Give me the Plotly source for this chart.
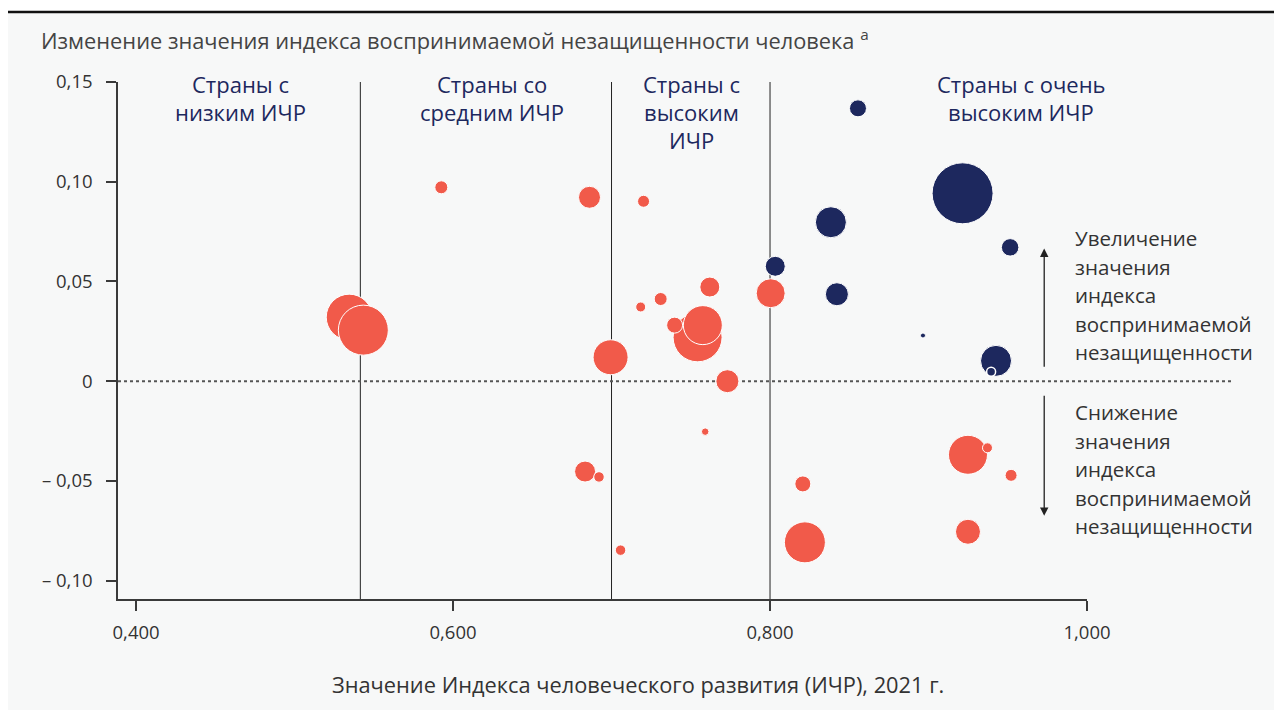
import plotly.graph_objects as go

# ---- data ----
red_hdi = [0.5345, 0.5434, 0.5926, 0.6861, 0.7202, 0.6994, 0.7184, 0.7310, 0.7620,
           0.7543, 0.7398, 0.7576, 0.7731, 0.8004, 0.6833, 0.6921, 0.7057, 0.7591,
           0.8207, 0.8220, 0.9249, 0.9372, 0.9521, 0.9249]
red_change = [0.0321, 0.0256, 0.0972, 0.0922, 0.0902, 0.0120, 0.0372, 0.0412, 0.0472,
              0.0220, 0.0281, 0.0281, 0.0000, 0.0441, -0.0453, -0.0480, -0.0847, -0.0253,
              -0.0515, -0.0808, -0.0369, -0.0334, -0.0472, -0.0755]
red_size = [46, 50, 13, 22, 12, 35, 10, 13, 20,
            49, 16, 39, 23, 29, 21, 10.5, 10.5, 7.5,
            16, 41, 39, 10, 12, 25]

navy_hdi = [0.8555, 0.9215, 0.8384, 0.9515, 0.8033, 0.8422, 0.8965, 0.9426, 0.9395]
navy_change = [0.1368, 0.0942, 0.0797, 0.0671, 0.0576, 0.0436, 0.0229, 0.0102, 0.0047]
navy_size = [17, 61, 31, 17.5, 20, 23, 5, 31, 9]

group_bounds = [0.5415, 0.700, 0.800]

x_tickvals = [0.4, 0.6, 0.8, 1.0]
x_ticktext = ["0,400", "0,600", "0,800", "1,000"]
y_tickvals = [0.15, 0.10, 0.05, 0.0, -0.05, -0.10]
y_ticktext = ["0,15", "0,10", "0,05", "0", "– 0,05", "– 0,10"]

RED = "#f15a4a"
NAVY = "#1d285e"
TXT = "#333333"
FONT = "Open Sans"

# the page body adds an 8px margin; work in screenshot pixels and offset
OFF = 8
W, H = 1282 - OFF, 710 - OFF
L, R, T, B = 118 - OFF, 1087 - OFF, 82 - OFF, 599 - OFF


def px(xp):
    return (xp - OFF - L) / (R - L)


def py(yp):
    return (B - (yp - OFF)) / (B - T)


fig = go.Figure()
fig.add_trace(go.Scatter(
    x=red_hdi, y=red_change, mode="markers",
    marker=dict(size=red_size, color=RED, opacity=1,
                line=dict(color="white", width=1)),
    hoverinfo="skip", showlegend=False))
fig.add_trace(go.Scatter(
    x=navy_hdi, y=navy_change, mode="markers",
    marker=dict(size=navy_size, color=NAVY, opacity=1,
                line=dict(color="white", width=[1, 1, 1, 1, 1, 1, 1, 1, 1.5])),
    hoverinfo="skip", showlegend=False))

shapes = []
# panel background and top rule
shapes.append(dict(type="rect", xref="paper", yref="paper",
                   x0=px(6), x1=px(1290), y0=py(720), y1=py(12),
                   fillcolor="#f7f8f8", line=dict(width=0), layer="below"))
shapes.append(dict(type="line", xref="paper", yref="paper",
                   x0=px(6), x1=px(1290), y0=py(12), y1=py(12),
                   line=dict(color="#111111", width=2.5)))
# group boundaries
for b in group_bounds:
    shapes.append(dict(type="line", xref="x", yref="paper", x0=b, x1=b, y0=0, y1=1,
                       line=dict(color="#222222", width=1), layer="below"))
# zero line
shapes.append(dict(type="line", xref="paper", yref="y", x0=0, x1=px(1233), y0=0, y1=0,
                   line=dict(color="#555555", width=2, dash="dot"), layer="below"))

annotations = []


def text_lines(lines, xp, y0p, step, color, size, anchor):
    for i, t in enumerate(lines):
        annotations.append(dict(text=t, xref="paper", yref="paper",
                                x=px(xp), y=py(y0p + i * step),
                                xanchor=anchor, yanchor="middle", showarrow=False,
                                font=dict(family=FONT, size=size, color=color)))


CAT = 22
text_lines(["Страны с", "низким ИЧР"], 240, 84, 28, NAVY, CAT, "center")
text_lines(["Страны со", "средним ИЧР"], 492, 84, 28, NAVY, CAT, "center")
text_lines(["Страны с", "высоким", "ИЧР"], 691, 84, 28, NAVY, CAT, "center")
text_lines(["Страны с очень", "высоким ИЧР"], 1021, 84, 28, NAVY, CAT, "center")

SIDE = 20.5
text_lines(["Увеличение", "значения", "индекса", "воспринимаемой", "незащищенности"],
           1073, 238, 28.6, TXT, SIDE, "left")
text_lines(["Снижение", "значения", "индекса", "воспринимаемой", "незащищенности"],
           1073, 412, 28.6, TXT, SIDE, "left")

# title
annotations.append(dict(text="Изменение значения индекса воспринимаемой незащищенности человека <sup>a</sup>",
                        xref="paper", yref="paper", x=px(39), y=py(40),
                        xanchor="left", yanchor="middle", showarrow=False,
                        font=dict(family=FONT, size=21.8, color="#444444")))
# x axis title
annotations.append(dict(text="Значение Индекса человеческого развития (ИЧР), 2021 г.",
                        xref="paper", yref="paper", x=px(638), y=py(684),
                        xanchor="center", yanchor="middle", showarrow=False,
                        font=dict(family=FONT, size=21.8, color=TXT)))

# arrows
annotations.append(dict(x=0.973, y=0.0665, ax=0.973, ay=0.0065, xref="x", yref="y",
                        axref="x", ayref="y", text="", showarrow=True,
                        arrowhead=2, arrowsize=1.3, arrowwidth=1.3, arrowcolor="#222222"))
annotations.append(dict(x=0.973, y=-0.0675, ax=0.973, ay=-0.0065, xref="x", yref="y",
                        axref="x", ayref="y", text="", showarrow=True,
                        arrowhead=2, arrowsize=1.3, arrowwidth=1.3, arrowcolor="#222222"))

TICK = 18.5
fig.update_layout(
    width=W, height=H,
    margin=dict(l=L, r=W - R, t=T, b=H - B, pad=0),
    paper_bgcolor="white", plot_bgcolor="#f7f8f8",
    shapes=shapes, annotations=annotations,
    font=dict(family=FONT, size=TICK, color=TXT),
    xaxis=dict(range=[0.3886, 1.0], tickvals=x_tickvals, ticktext=x_ticktext,
               showgrid=False, zeroline=False, showline=True, linecolor="#3a3a3a",
               linewidth=1.5, ticks="outside", ticklen=10, tickcolor="#3a3a3a",
               tickwidth=1.5, ticklabelstandoff=6,
               tickfont=dict(family=FONT, size=TICK, color=TXT)),
    yaxis=dict(range=[-0.1092, 0.15], tickvals=y_tickvals, ticktext=y_ticktext,
               showgrid=False, zeroline=False, showline=True, linecolor="#3a3a3a",
               linewidth=1.5, ticks="outside", ticklen=10, tickcolor="#3a3a3a",
               tickwidth=1.5, ticklabelstandoff=10,
               tickfont=dict(family=FONT, size=TICK, color=TXT)),
)

fig.write_html("out.html")
